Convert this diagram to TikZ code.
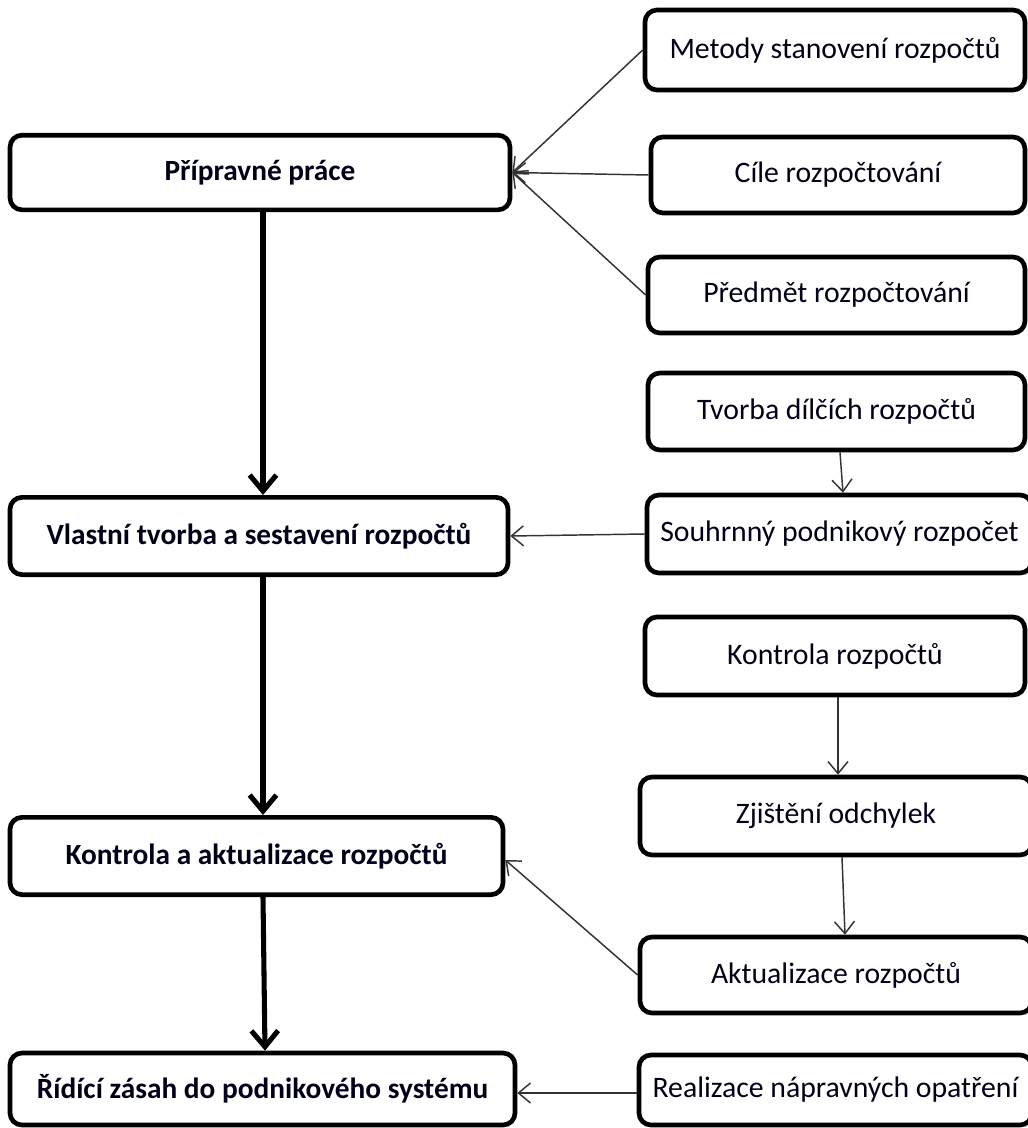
\documentclass[tikz,border=0pt]{standalone}
\usepackage{fontspec}
\setmainfont{Carlito}
\usetikzlibrary{arrows.meta}
\begin{document}
\begin{tikzpicture}[x=0.75pt,y=-0.75pt,
  rbox/.style={draw=black, line width=3.5pt, rounded corners=9pt, inner sep=0pt,
    font=\fontsize{22.3}{26}\selectfont, text=black!90!blue},
  lbox/.style={rbox, font=\fontsize{22}{26}\selectfont\bfseries},
  thin/.style={draw=black!80, line width=1.1pt, -{Straight Barb[length=9pt,width=15pt,line width=1.1pt]}},
  thick/.style={draw=black, line width=3.8pt, -{Straight Barb[length=12pt,width=20pt,line width=3.8pt]}}]
\useasboundingbox (0,0) rectangle (1028,1128);
\fill[white] (0,0) rectangle (1028,1128);
% left column
\node[lbox, minimum width=375pt, minimum height=56pt] (p1) at (260,172.5) {Přípravné práce};
\node[lbox, minimum width=373.5pt, minimum height=58pt] (p2) at (259,536) {Vlastní tvorba a sestavení rozpočtů};
\node[lbox, minimum width=369.75pt, minimum height=58pt] (p3) at (256.5,856) {Kontrola a aktualizace rozpočtů};
\node[lbox, minimum width=378.75pt, minimum height=54pt] (p4) at (262.5,1089) {Řídící zásah do podnikového systému};
% right column
\node[rbox, minimum width=285pt, minimum height=60pt] (r1) at (835,50) {Metody stanovení rozpočtů};
\node[rbox, minimum width=280.5pt, minimum height=57pt] (r2) at (838,175) {Cíle rozpočtování};
\node[rbox, minimum width=282.75pt, minimum height=57pt] (r3) at (836.5,295) {Předmět rozpočtování};
\node[rbox, minimum width=282.75pt, minimum height=57.75pt] (r4) at (836.5,411.5) {Tvorba dílčích rozpočtů};
\node[rbox, minimum width=288.75pt, minimum height=58.5pt] (r5) at (839.5,534) {Souhrnný podnikový rozpočet};
\node[rbox, minimum width=285pt, minimum height=58.5pt] (r6) at (835,656) {Kontrola rozpočtů};
\node[rbox, minimum width=294pt, minimum height=58.5pt] (r7) at (836,816) {Zjištění odchylek};
\node[rbox, minimum width=294pt, minimum height=57pt] (r8) at (836,975) {Aktualizace rozpočtů};
\node[rbox, minimum width=294.75pt, minimum height=52.5pt] (r9) at (835.5,1090) {Realizace nápravných opatření};
% thick main flow
\draw[thick] (p1.south -| 263,0) -- (p2.north -| 263,0);
\draw[thick] (p2.south -| 263,0) -- (p3.north -| 263,0);
\draw[thick] (p3.south -| 263,0) -- (p4.north -| 265,0);
% thin connectors
\draw[thin] (r1.west) -- (p1.east);
\draw[thin] (r2.west) -- (p1.east);
\draw[thin] (r3.west) -- (p1.east);
\draw[thin] (r4.south -| 840,0) -- (r5.north -| 843,0);
\draw[thin] (r5.west) -- (p2.east);
\draw[thin] (r6.south -| 838,0) -- (r7.north -| 838,0);
\draw[thin] (r7.south -| 842,0) -- (r8.north -| 845,0);
\draw[thin] (r8.west) -- (p3.east |- 0,860);
\draw[thin] (r9.west |- 0,1093) -- (p4.east |- 0,1093);
\end{tikzpicture}
\end{document}
